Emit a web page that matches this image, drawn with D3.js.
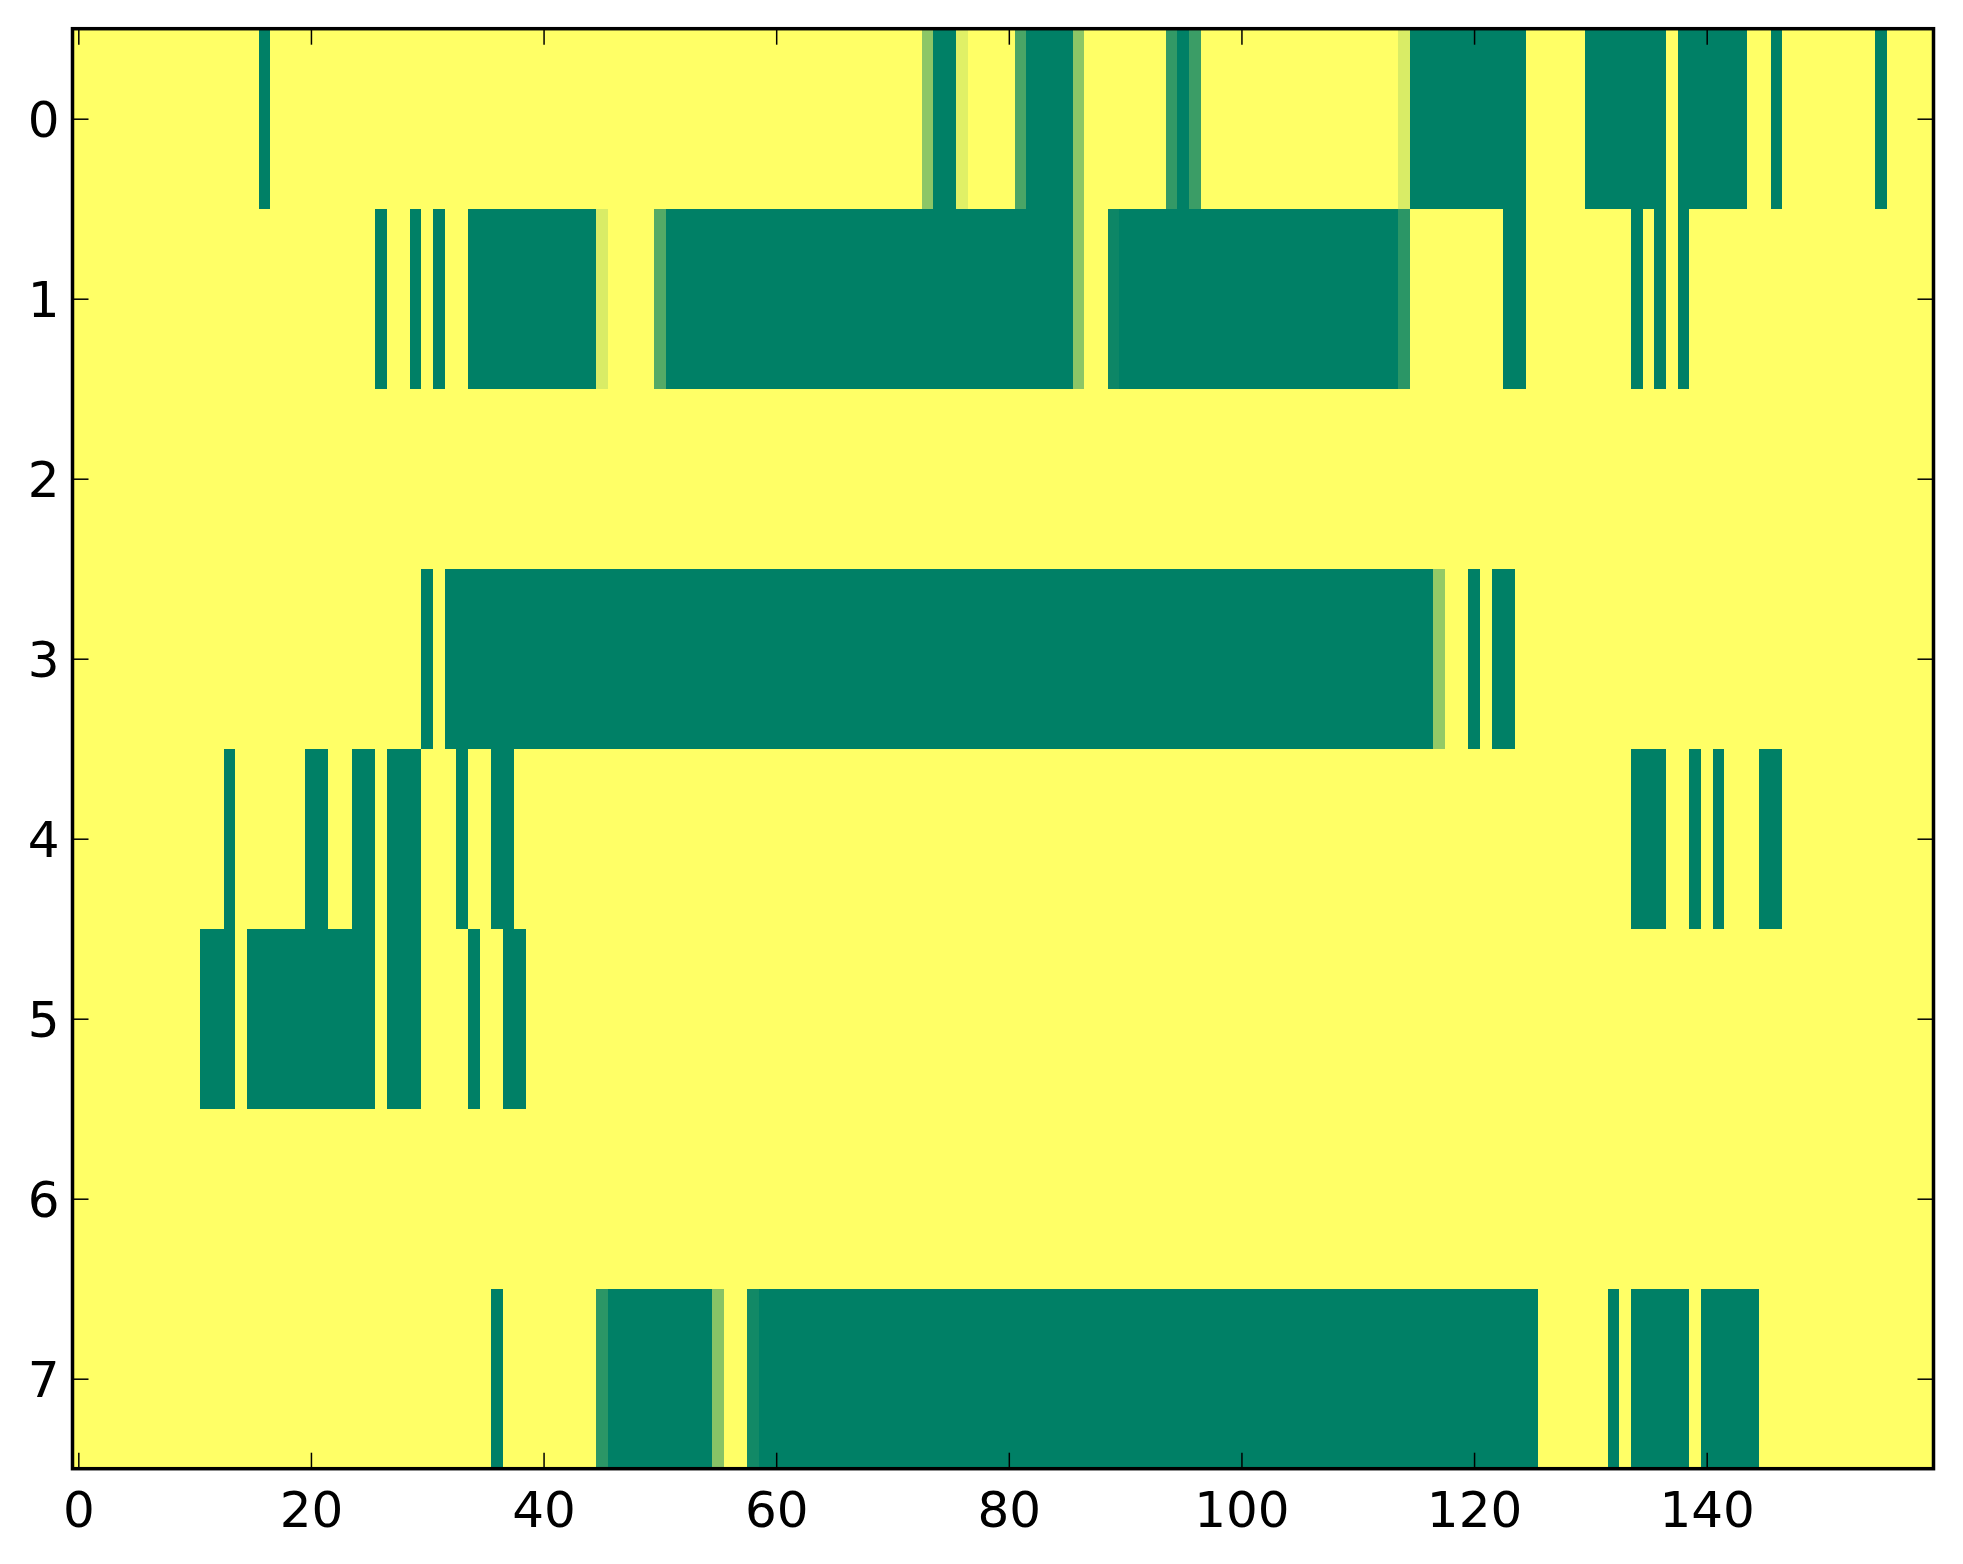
<!DOCTYPE html>
<html>
<head>
<meta charset="utf-8">
<script src="https://cdn.jsdelivr.net/npm/d3@7"></script>
<style>
    body { margin: 0; background: #fff; }
    svg { display: block; }
</style>
</head>
<body>
<div id="chart"></div>
<script>
// grid size
var colCount = 160;
var rowLabels = [0, 1, 2, 3, 4, 5, 6, 7];
var xTicks = [0, 20, 40, 60, 80, 100, 120, 140];

// every cell is 1 (yellow) unless listed here: [firstCol, lastCol, value]
var row0 = [[16, 16, 0], [73, 73, 0.55], [74, 75, 0], [76, 76, 0.88], [81, 81, 0.29], [82, 85, 0],
            [86, 86, 0.55], [94, 94, 0.2], [95, 95, 0], [96, 96, 0.23], [114, 114, 0.85],
            [115, 124, 0], [130, 136, 0], [138, 143, 0], [146, 146, 0], [155, 155, 0]];
var row1 = [[26, 26, 0], [29, 29, 0], [31, 31, 0], [34, 44, 0], [45, 45, 0.85], [50, 50, 0.33],
            [51, 85, 0], [86, 86, 0.55], [89, 89, 0.05], [90, 113, 0], [114, 114, 0.17],
            [123, 124, 0], [134, 134, 0], [136, 136, 0], [138, 138, 0]];
var row2 = [];
var row3 = [[30, 30, 0], [32, 116, 0], [117, 117, 0.58], [120, 120, 0], [122, 123, 0]];
var row4 = [[13, 13, 0], [20, 21, 0], [24, 25, 0], [27, 29, 0], [33, 33, 0], [36, 37, 0],
            [134, 136, 0], [139, 139, 0], [141, 141, 0], [145, 146, 0]];
var row5 = [[11, 13, 0], [15, 25, 0], [27, 29, 0], [34, 34, 0], [37, 38, 0]];
var row6 = [];
var row7 = [[36, 36, 0], [45, 45, 0.17], [46, 54, 0], [55, 55, 0.53], [58, 58, 0.07],
            [59, 125, 0], [132, 132, 0], [134, 138, 0], [140, 144, 0]];

var rowRuns = [row0, row1, row2, row3, row4, row5, row6, row7];

// expand runs into cells
var cells = [];
rowRuns.forEach(function(runs, r) {
    var vals = d3.range(colCount).map(function() { return 1; });
    runs.forEach(function(run) {
        for (var c = run[0]; c <= run[1]; c++) vals[c] = run[2];
    });
    vals.forEach(function(v, c) {
        cells.push({ row: r, col: c, value: v });
    });
});

var width = 1963,
    height = 1564;
var plot = { left: 72.5, right: 1933.5, top: 28.7, bottom: 1468.7 };

var svg = d3.select('#chart').append('svg')
    .attr('width', width)
    .attr('height', height);

var x = d3.scaleLinear()
    .domain([-0.5, colCount - 0.5])
    .range([plot.left, plot.right]);

var y = d3.scaleLinear()
    .domain([-0.5, rowLabels.length - 0.5])
    .range([plot.top, plot.bottom]);

// matplotlib "summer": (v, 0.5 + v/2, 0.4)
var color = d3.scaleLinear()
    .domain([0, 1])
    .range(['#008066', '#ffff66']);

svg.append('g')
    .attr('shape-rendering', 'crispEdges')
    .selectAll('rect')
    .data(cells)
    .join('rect')
    .attr('x', d => x(d.col - 0.5))
    .attr('y', d => y(d.row - 0.5))
    .attr('width', d => x(d.col + 0.5) - x(d.col - 0.5) + 0.5)
    .attr('height', d => y(d.row + 0.5) - y(d.row - 0.5) + 0.5)
    .attr('fill', d => color(d.value));

var tickLen = 16;
var fontSize = 50;

function styleAxis(g) {
    g.select('.domain').remove();
    g.selectAll('.tick line')
        .attr('stroke', '#000')
        .attr('stroke-width', 1.5);
    g.selectAll('.tick text')
        .attr('fill', '#000')
        .attr('font-family', '"DejaVu Sans", sans-serif')
        .attr('font-size', fontSize + 'px');
}

// bottom axis with labels
svg.append('g')
    .attr('transform', `translate(0, ${plot.bottom})`)
    .call(d3.axisBottom(x).tickValues(xTicks).tickSize(-tickLen).tickPadding(22).tickFormat(d3.format('d')))
    .call(styleAxis);

// top axis, ticks only
svg.append('g')
    .attr('transform', `translate(0, ${plot.top})`)
    .call(d3.axisTop(x).tickValues(xTicks).tickSize(-tickLen).tickFormat(''))
    .call(styleAxis);

// left axis with labels
svg.append('g')
    .attr('transform', `translate(${plot.left}, 0)`)
    .call(d3.axisLeft(y).tickValues(rowLabels).tickSize(-tickLen).tickPadding(13).tickFormat(d3.format('d')))
    .call(styleAxis);

// right axis, ticks only
svg.append('g')
    .attr('transform', `translate(${plot.right}, 0)`)
    .call(d3.axisRight(y).tickValues(rowLabels).tickSize(-tickLen).tickFormat(''))
    .call(styleAxis);

svg.selectAll('.tick text').attr('dy', '0.36em');
svg.selectAll('g').filter(function() {
    return this.getAttribute('transform') === `translate(0, ${plot.bottom})`;
}).selectAll('.tick text').attr('dy', '0.73em');

// frame
svg.append('rect')
    .attr('x', plot.left)
    .attr('y', plot.top)
    .attr('width', plot.right - plot.left)
    .attr('height', plot.bottom - plot.top)
    .attr('fill', 'none')
    .attr('stroke', '#000')
    .attr('stroke-width', 3.5);
</script>
</body>
</html>
